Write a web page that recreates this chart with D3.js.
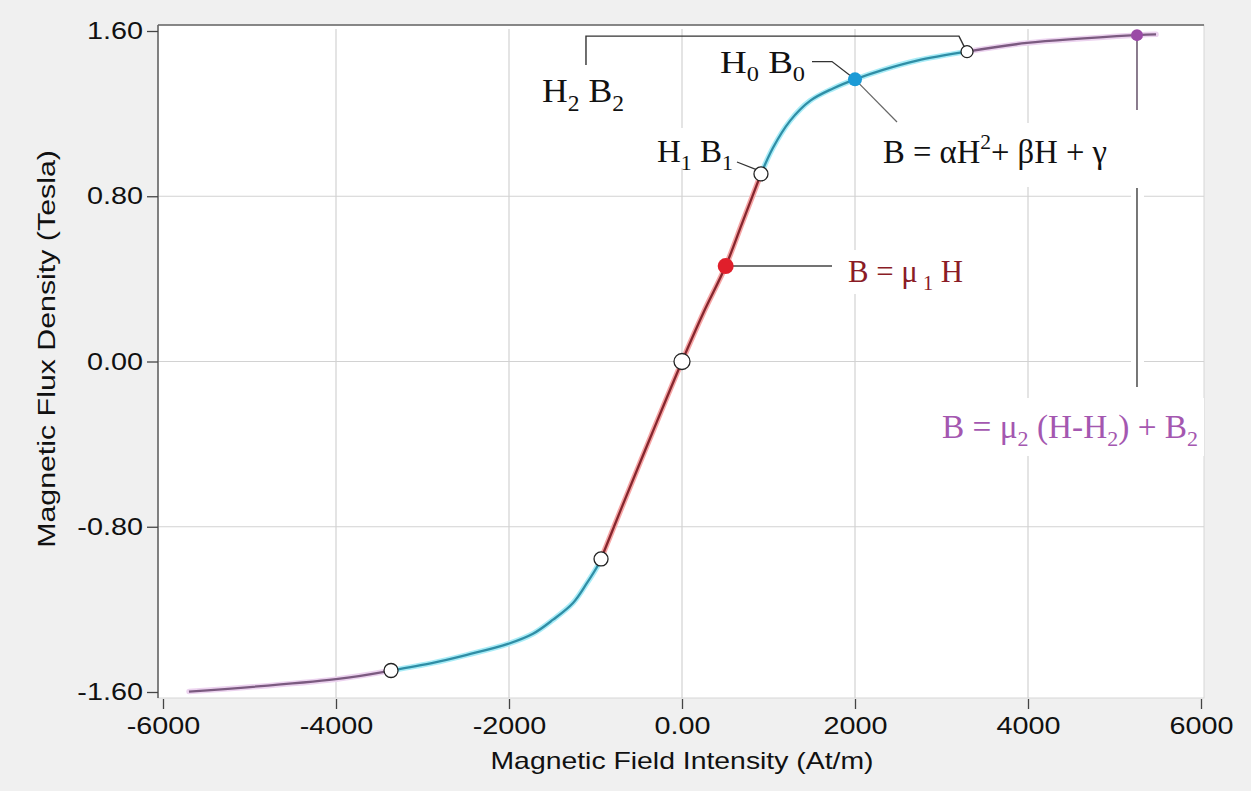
<!DOCTYPE html>
<html>
<head>
<meta charset="utf-8">
<script src="https://cdn.jsdelivr.net/npm/d3@7"></script>
<style>
  body { margin: 0; background: #f0f0f0; }
  svg { display: block; }
</style>
</head>
<body>
<div id="chart"></div>
<script>
// B-H curve pieces, [H (At/m), B (T)]
var purpleLow = [[-5700, -1.598], [-4000, -1.538], [-3364, -1.496]];
var cyanLow = [[-3364, -1.496], [-2879, -1.459], [-2486, -1.420], [-2012, -1.367], [-1723, -1.318],
               [-1491, -1.250], [-1260, -1.169], [-1098, -1.072], [-983, -0.995], [-936, -0.956]];
var redMid = [[-936, -0.956], [-700, -0.710], [-350, -0.352], [0, 0],
              [250, 0.238], [505, 0.462], [700, 0.675], [913, 0.908]];
var cyanHigh = [[913, 0.908], [1052, 1.035], [1249, 1.165], [1480, 1.262], [1746, 1.322],
                [2000, 1.366], [2324, 1.412], [2717, 1.457], [3295, 1.500]];
var purpleHigh = [[3295, 1.500], [3988, 1.542], [5260, 1.580], [5480, 1.584]];

// marked points
var openPts = [[-3364, -1.496], [-936, -0.956], [0, 0], [913, 0.908], [3295, 1.500]];
var mu1Pt = [505, 0.462];
var h0Pt = [2000, 1.366];
var h2Pt = [5260, 1.580];

var xTicks = [-6000, -4000, -2000, 0, 2000, 4000, 6000];
var xTickLabels = ["-6000", "-4000", "-2000", "0.00", "2000", "4000", "6000"];
var yTicks = [1.6, 0.8, 0, -0.8, -1.6];
var yTickLabels = ["1.60", "0.80", "0.00", "-0.80", "-1.60"];

var W = 1251, H = 791;
var plot = {left: 158, right: 1204, top: 25, bottom: 698};

var svg = d3.select("#chart").append("svg")
    .attr("width", W).attr("height", H);

svg.append("rect").attr("width", W).attr("height", H).attr("fill", "#f0f0f0");

var x = d3.scaleLinear().domain([-6000, 6000]).range([163, 1201]);
var y = d3.scaleLinear().domain([-1.6, 1.6]).range([692, 31]);

// plot area
svg.append("rect")
    .attr("x", plot.left).attr("y", plot.top)
    .attr("width", plot.right - plot.left).attr("height", plot.bottom - plot.top)
    .attr("fill", "#fff").attr("stroke", "#d6d6d6");

// grid
svg.append("g").selectAll("line")
    .data(xTicks.slice(1, -1)).enter().append("line")
    .attr("x1", function(d) { return x(d); }).attr("x2", function(d) { return x(d); })
    .attr("y1", plot.top + 4).attr("y2", plot.bottom)
    .attr("stroke", "#d2d2d2").attr("stroke-width", 1.2);
svg.append("g").selectAll("line")
    .data(yTicks.slice(1, -1)).enter().append("line")
    .attr("x1", plot.left).attr("x2", plot.right)
    .attr("y1", function(d) { return y(d); }).attr("y2", function(d) { return y(d); })
    .attr("stroke", "#d2d2d2").attr("stroke-width", 1.2);

// frame lines top / left
svg.append("line").attr("x1", plot.left).attr("x2", plot.right)
    .attr("y1", plot.top).attr("y2", plot.top).attr("stroke", "#666").attr("stroke-width", 1.6);
svg.append("line").attr("x1", plot.left).attr("x2", plot.left)
    .attr("y1", plot.top).attr("y2", plot.bottom).attr("stroke", "#666").attr("stroke-width", 1.6);

// axes
var yAxis = svg.append("g")
    .attr("transform", "translate(" + plot.left + ",0)")
    .call(d3.axisLeft(y).tickValues(yTicks).tickSize(11).tickPadding(4)
        .tickFormat(function(d, i) { return yTickLabels[i]; }));
yAxis.select(".domain").remove();

var xAxis = svg.append("g")
    .attr("transform", "translate(0," + (plot.bottom + 1) + ")")
    .call(d3.axisBottom(x).tickValues(xTicks).tickSize(10).tickPadding(8)
        .tickFormat(function(d, i) { return xTickLabels[i]; }));
xAxis.select(".domain").remove();

svg.selectAll(".tick line").attr("stroke", "#444").attr("stroke-width", 1.3);
svg.selectAll(".tick text")
    .attr("font-family", "Liberation Sans, Arial, sans-serif")
    .attr("font-size", 24).attr("fill", "#111");
// picture is stretched sideways a bit
svg.selectAll(".tick text").each(function() {
    var w = this.getComputedTextLength();
    d3.select(this).attr("textLength", w * 1.2).attr("lengthAdjust", "spacingAndGlyphs");
});

svg.append("text")
    .attr("x", 682).attr("y", 769)
    .attr("text-anchor", "middle")
    .attr("font-family", "Liberation Sans, Arial, sans-serif")
    .attr("font-size", 24).attr("fill", "#111")
    .attr("textLength", 383).attr("lengthAdjust", "spacingAndGlyphs")
    .text("Magnetic Field Intensity (At/m)");

var yTitle = svg.append("text")
    .attr("text-anchor", "middle")
    .attr("font-family", "Liberation Sans, Arial, sans-serif")
    .attr("font-size", 23).attr("fill", "#111")
    .text("Magnetic Flux Density (Tesla)");
var yLen = yTitle.node().getComputedTextLength();
yTitle.attr("transform", "translate(55,349) rotate(-90) scale(" + (398 / yLen) + ",1)");

// white patches behind labels (they cut the grid in the picture)
var patches = [[650, 128, 90, 40], [840, 250, 132, 44], [870, 123, 250, 64], [930, 398, 274, 58], [1131, 185, 13, 205]];
svg.append("g").selectAll("rect").data(patches).enter().append("rect")
    .attr("x", function(d) { return d[0]; }).attr("y", function(d) { return d[1]; })
    .attr("width", function(d) { return d[2]; }).attr("height", function(d) { return d[3]; })
    .attr("fill", "#fff");

// annotation leaders
var ann = svg.append("g").attr("fill", "none");
ann.append("path")
    .attr("d", "M" + x(-1110) + "," + y(1.435) + "V" + y(1.575) + "H" + x(3202) + "L" + x(3265) + "," + y(1.522))
    .attr("stroke", "#333").attr("stroke-width", 1.4);
ann.append("path")
    .attr("d", "M812," + y(1.452) + "H832L" + x(h0Pt[0]) + "," + y(h0Pt[1]))
    .attr("stroke", "#333").attr("stroke-width", 1.3);
ann.append("line")
    .attr("x1", x(h0Pt[0])).attr("y1", y(h0Pt[1])).attr("x2", 897).attr("y2", 122)
    .attr("stroke", "#666").attr("stroke-width", 1.2);
ann.append("line")
    .attr("x1", 737).attr("y1", 162).attr("x2", x(913) - 4).attr("y2", y(0.908) - 4)
    .attr("stroke", "#333").attr("stroke-width", 1.3);
ann.append("line")
    .attr("x1", x(mu1Pt[0])).attr("y1", y(mu1Pt[1])).attr("x2", 832).attr("y2", y(mu1Pt[1]))
    .attr("stroke", "#444").attr("stroke-width", 1.4);
ann.append("line")
    .attr("x1", x(h2Pt[0])).attr("y1", y(h2Pt[1])).attr("x2", x(h2Pt[0])).attr("y2", 110)
    .attr("stroke", "#6e5c72").attr("stroke-width", 1.6);
ann.append("line")
    .attr("x1", x(h2Pt[0])).attr("y1", 188).attr("x2", x(h2Pt[0])).attr("y2", 387)
    .attr("stroke", "#555").attr("stroke-width", 1.6);

// curve
var line = d3.line()
    .x(function(d) { return x(d[0]); })
    .y(function(d) { return y(d[1]); })
    .curve(d3.curveCatmullRom.alpha(0.5));

var segs = [
    {data: purpleLow, glow: "#ecd3ef", core: "#7b5a80"},
    {data: cyanLow, glow: "#a9ecf7", core: "#2f8ea6"},
    {data: redMid, glow: "#f6a6a6", core: "#86262e"},
    {data: cyanHigh, glow: "#a9ecf7", core: "#2f8ea6"},
    {data: purpleHigh, glow: "#ecd3ef", core: "#7b5a80"}
];
segs.forEach(function(s) {
    svg.append("path").datum(s.data).attr("d", line)
        .attr("fill", "none").attr("stroke", s.glow).attr("stroke-width", 5.5)
        .attr("stroke-linecap", "round");
});
segs.forEach(function(s) {
    svg.append("path").datum(s.data).attr("d", line)
        .attr("fill", "none").attr("stroke", s.core).attr("stroke-width", 2.3);
});

// markers
svg.append("g").selectAll("circle").data(openPts).enter().append("circle")
    .attr("cx", function(d) { return x(d[0]); })
    .attr("cy", function(d) { return y(d[1]); })
    .attr("r", function(d, i) { return i === 2 ? 8 : (i === 4 ? 6 : 7); })
    .attr("fill", "#fff").attr("stroke", "#222").attr("stroke-width", 1.3);
svg.append("circle").attr("cx", x(mu1Pt[0])).attr("cy", y(mu1Pt[1])).attr("r", 8).attr("fill", "#e01f2b");
svg.append("circle").attr("cx", x(h0Pt[0])).attr("cy", y(h0Pt[1])).attr("r", 7).attr("fill", "#1b9ad6");
svg.append("circle").attr("cx", x(h2Pt[0])).attr("cy", y(h2Pt[1])).attr("r", 6).attr("fill", "#9a4aa6");

// serif labels with sub/superscripts
function label(px, py, size, len, color, parts) {
    var t = svg.append("text")
        .attr("x", px).attr("y", py)
        .attr("font-family", "Liberation Serif, Times New Roman, serif")
        .attr("font-size", size).attr("fill", color)
        .attr("textLength", len).attr("lengthAdjust", "spacingAndGlyphs")
        .attr("xml:space", "preserve");
    var shift = 0;
    parts.forEach(function(p) {
        var target = p[1] === "sub" ? size * 0.25 : (p[1] === "sup" ? -size * 0.42 : 0);
        t.append("tspan")
            .attr("dy", target - shift)
            .attr("font-size", p[1] ? size * 0.66 : size)
            .text(p[0]);
        shift = target;
    });
}

label(542, 102, 34, 82, "#111", [["H"], ["2", "sub"], [" B"], ["2", "sub"]]);
label(720, 73, 32, 85, "#111", [["H"], ["0", "sub"], [" B"], ["0", "sub"]]);
label(657, 162, 32, 76, "#111", [["H"], ["1", "sub"], [" B"], ["1", "sub"]]);
label(883, 163, 33, 224, "#111", [["B = αH"], ["2", "sup"], ["+ βH + γ"]]);
label(848, 282, 31, 115, "#8a1c26", [["B = μ"], [" 1", "sub"], [" H"]]);
label(942, 438, 33, 256, "#a457b0", [["B = μ"], ["2", "sub"], [" (H-H"], ["2", "sub"], [") + B"], ["2", "sub"]]);
</script>
</body>
</html>
